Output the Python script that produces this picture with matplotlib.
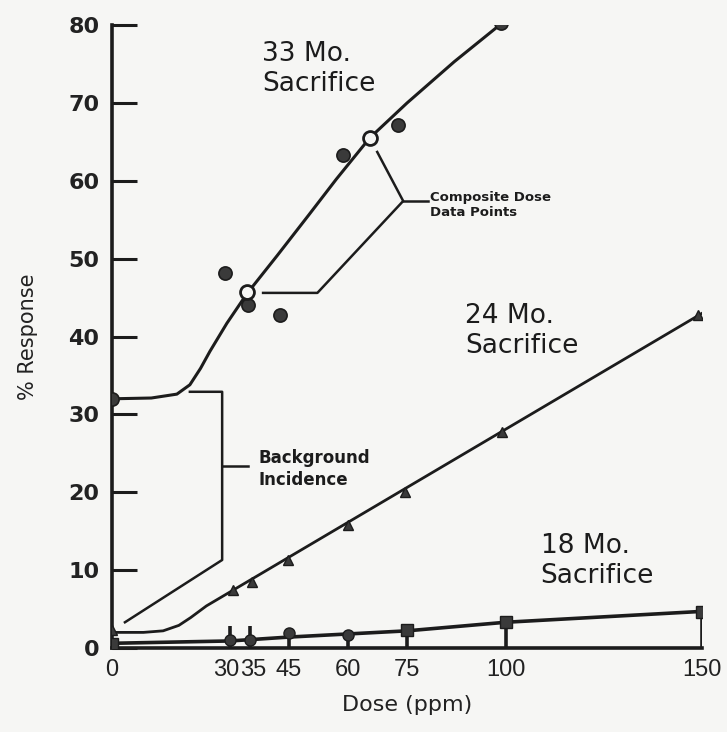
import matplotlib
matplotlib.use("Agg")
import matplotlib.pyplot as plt
from matplotlib.transforms import ScaledTranslation

# ---------------- data ----------------
xticks = [0, 30, 35, 45, 60, 75, 100, 150]
xtick_nudge_px = [0, -4, 4, 0, 0, 0, 0, 0]   # small label nudge so 30/35 do not collide
yticks = [0, 10, 20, 30, 40, 50, 60, 70, 80]

# 33 month sacrifice
dose33 = [0, 28.7, 34.6, 42.6, 58.6, 72.6, 98.9]
resp33 = [32.0, 48.1, 44.0, 42.7, 63.3, 67.1, 80.2]
comp_dose = [34.3, 65.5]            # composite dose data points (open)
comp_resp = [45.7, 65.5]
curve33_x = [0, 10, 16.5, 19.8, 22.5, 24.9, 29.2, 34.3, 42, 50, 57, 65.5, 75, 87, 99]
curve33_y = [32.0, 32.1, 32.6, 33.8, 35.9, 38.1, 41.7, 45.5, 50.4, 55.6, 60.2, 65.5, 70.0, 75.3, 80.2]

# 24 month sacrifice
dose24 = [0, 30.7, 35.5, 44.7, 60, 74.4, 99, 149]
resp24 = [2.3, 7.4, 8.5, 11.3, 15.8, 20.0, 27.7, 42.7]
curve24_x = [0, 8, 13, 17, 20, 24, 30.7, 150]
curve24_y = [2.0, 2.0, 2.2, 2.9, 3.9, 5.4, 7.4, 43.0]

# 18 month sacrifice
dose18 = [0, 30, 35, 45, 60, 75, 100, 150]
resp18 = [0.5, 1.0, 1.0, 1.9, 1.7, 2.3, 3.3, 4.6]
stem18 = [0.0, 2.8, 2.8, 1.9, 1.7, 2.3, 3.3, 4.6]
mark18 = ['s', 'o', 'o', 'o', 'o', 's', 's', 's']
line18_x = [0, 30, 45, 60, 75, 100, 150]
line18_y = [0.6, 0.9, 1.4, 1.8, 2.2, 3.3, 4.7]

# annotation brackets (data units)
comp_br_x = [67.4, 74.0, 52.2, 38.4]
comp_br_y = [63.7, 57.4, 45.6, 45.6]
comp_tick_x = [74.0, 80.2]
comp_tick_y = [57.4, 57.4]
bg_br_x = [19.8, 28.0, 28.0, 3.3]
bg_br_y = [32.9, 32.9, 11.3, 3.3]
bg_tick_x = [28.0, 34.6]
bg_tick_y = [23.4, 23.4]

# ---------------- figure ----------------
INK = '#1c1c1c'
BG = '#f6f6f4'
fig = plt.figure(figsize=(7.27, 7.32), dpi=100, facecolor=BG)
ax = fig.add_axes([0.154, 0.1148, 0.812, 0.851])
ax.set_facecolor(BG)

ax.set_xlim(0, 150)
ax.set_ylim(0, 80)

# curves
ax.plot(curve33_x, curve33_y, color=INK, lw=2.2, solid_capstyle='round', zorder=3)
ax.plot(curve24_x, curve24_y, color=INK, lw=2.0, zorder=3)
ax.plot(line18_x, line18_y, color=INK, lw=2.6, zorder=3)

# markers
ax.plot(dose33, resp33, linestyle='none', marker='o', ms=9.5, mfc='#3a3a3a',
        mec=INK, mew=1.2, zorder=4)
ax.plot(comp_dose, comp_resp, linestyle='none', marker='o', ms=10, mfc=BG,
        mec=INK, mew=2.0, zorder=5)
ax.plot(dose24, resp24, linestyle='none', marker='^', ms=7, mfc='#3a3a3a',
        mec=INK, mew=1.0, zorder=4)
ax.vlines(dose18[1:], 0, stem18[1:], color=INK, lw=2.6, zorder=3)
for d, r, m in zip(dose18, resp18, mark18):
    ax.plot([d], [r], linestyle='none', marker=m, ms=8, mfc='#3a3a3a',
            mec=INK, mew=1.0, zorder=4)

# brackets
ax.plot(comp_br_x, comp_br_y, color=INK, lw=1.8, zorder=2)
ax.plot(comp_tick_x, comp_tick_y, color=INK, lw=1.8, zorder=2)
ax.plot(bg_br_x, bg_br_y, color=INK, lw=1.8, zorder=2)
ax.plot(bg_tick_x, bg_tick_y, color=INK, lw=1.8, zorder=2)

# texts
lab_kw = dict(fontsize=19, color=INK, ha='left', va='center', linespacing=1.2,
              family=['DejaVu Sans'])
ax.text(38.2, 74.3, '33 Mo.\nSacrifice', **lab_kw)
ax.text(89.8, 40.7, '24 Mo.\nSacrifice', **lab_kw)
ax.text(108.9, 11.2, '18 Mo.\nSacrifice', **lab_kw)
ax.text(80.9, 56.9, 'Composite Dose\nData Points', fontsize=9.5, fontweight='bold',
        color=INK, ha='left', va='center', linespacing=1.25)
ax.text(37.2, 23.0, 'Background\nIncidence', fontsize=12, fontweight='bold',
        color=INK, ha='left', va='center', linespacing=1.25)

# axes styling
for s in ['top', 'right']:
    ax.spines[s].set_visible(False)
for s in ['left', 'bottom']:
    ax.spines[s].set_linewidth(2.6)
    ax.spines[s].set_color(INK)

ax.set_yticks(yticks)
ax.set_yticklabels([str(v) for v in yticks], fontsize=16, fontweight='bold', color='#222222')
ax.tick_params(axis='y', direction='in', length=18, width=2.2, pad=9, color=INK)

ax.set_xticks(xticks)
ax.set_xticklabels([str(v) for v in xticks], fontsize=17,
                   family=['Liberation Sans', 'DejaVu Sans'], color='#222222')
ax.tick_params(axis='x', length=0, pad=8)
for tk, dx in zip(ax.xaxis.get_major_ticks(), xtick_nudge_px):
    if dx:
        tk.label1.set_transform(tk.label1.get_transform()
                                + ScaledTranslation(dx / 100.0, 0, fig.dpi_scale_trans))

ax.set_xlabel('Dose (ppm)', fontsize=16, color='#222222', labelpad=10)
ax.set_ylabel('% Response', fontsize=15, color='#222222', labelpad=22)

fig.savefig('out.png', dpi=100, facecolor=fig.get_facecolor())
